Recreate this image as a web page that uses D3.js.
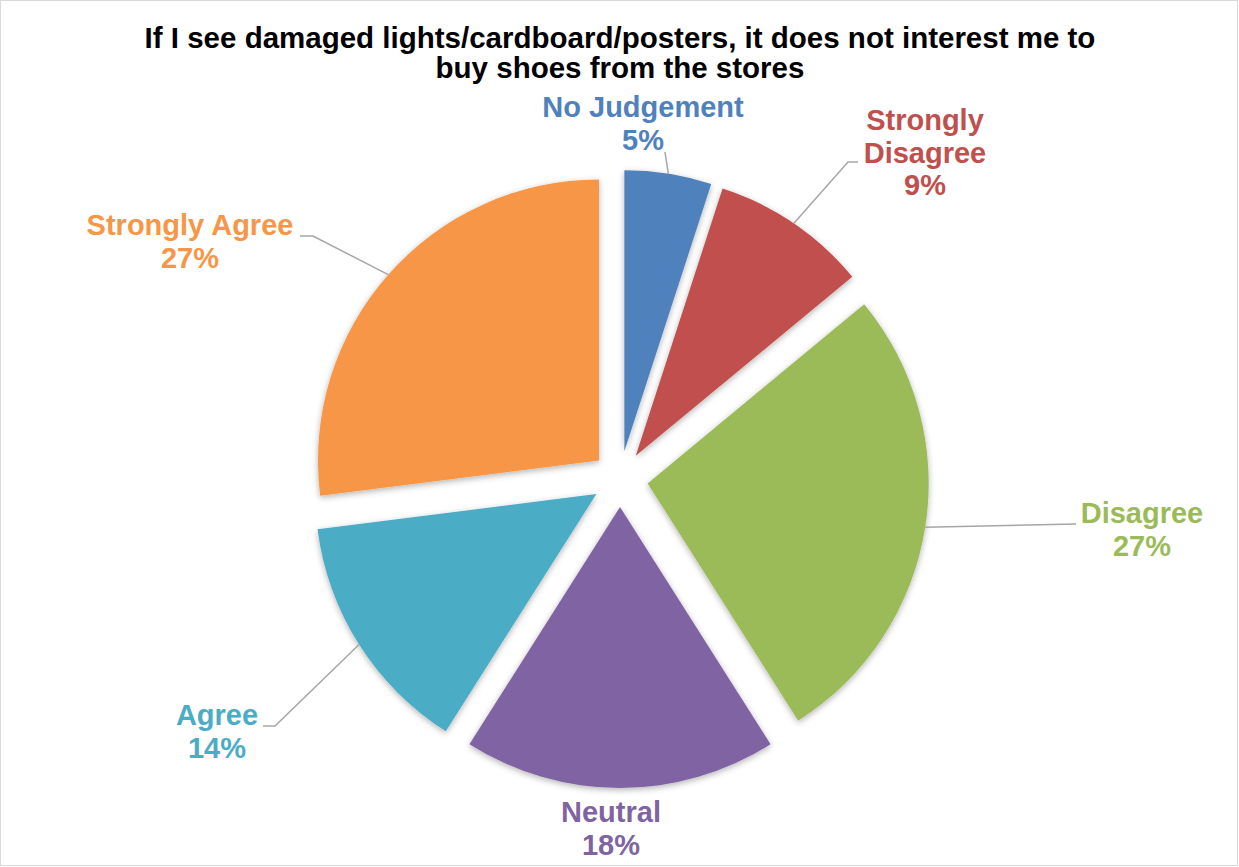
<!DOCTYPE html>
<html>
<head>
<meta charset="utf-8">
<script src="https://cdn.jsdelivr.net/npm/d3@7"></script>
<style>
  html, body { margin: 0; padding: 0; background: #fff; }
  svg { display: block; }
  text { font-family: "Liberation Sans", Arial, sans-serif; font-weight: bold; }
</style>
</head>
<body>
<svg id="chart" width="1239" height="867"></svg>
<script>
// Survey responses (percent of respondents), clockwise from 12 o'clock
const categories = ["No Judgement", "Strongly Disagree", "Disagree", "Neutral", "Agree", "Strongly Agree"];
const values = [5, 9, 27, 18, 14, 27];
const colors = ["#4F81BD", "#C0504D", "#9BBB59", "#8064A2", "#4BACC6", "#F79646"];
const titleLines = [
  "If I see damaged lights/cardboard/posters, it does not interest me to",
  "buy shoes from the stores"
];
// Label text broken into lines (name lines; the percentage is appended)
const labelNameLines = [["No Judgement"], ["Strongly", "Disagree"], ["Disagree"], ["Neutral"], ["Agree"], ["Strongly Agree"]];

// Layout
const W = 1239, H = 867;
const cx = 620, cy = 479, radius = 281, explode = 28;
const labelLineHeight = 32.5;
// label anchor: [centre x, first baseline y]
const labelAnchor = [[643, 117], [925, 130], [1142, 523], [611, 822], [217, 725], [190, 235]];
// leader line: optional elbow then end point near the label
const leaderPts = [
  [[665, 152]],
  [[848, 162], [858, 162]],
  [[1076, 524]],
  null,
  [[275, 726], [263, 726]],
  [[313, 236], [300, 236]]
];

const svg = d3.select("#chart");

const defs = svg.append("defs");
const f = defs.append("filter").attr("id", "sliceShadow")
  .attr("x", "-20%").attr("y", "-20%").attr("width", "140%").attr("height", "140%");
f.append("feDropShadow").attr("dx", 0).attr("dy", 2).attr("stdDeviation", 3)
  .attr("flood-color", "#000").attr("flood-opacity", 0.3);

// outer frame
svg.append("rect").attr("x", 0.5).attr("y", 0.5).attr("width", W - 2).attr("height", H - 2)
  .attr("fill", "#fff").attr("stroke", "#d9d9d9").attr("stroke-width", 1);

// title
svg.append("g").selectAll("text").data(titleLines).join("text")
  .attr("x", 620).attr("y", (d, i) => 48 + i * 30)
  .attr("text-anchor", "middle").attr("font-size", 29.5).attr("fill", "#000")
  .text(d => d);

const data = categories.map((c, i) => ({ name: c, value: values[i], color: colors[i], idx: i }));
const pie = d3.pie().value(d => d.value).sort(null);
const arcs = pie(data);
const arc = d3.arc().innerRadius(0).outerRadius(radius);

const offset = a => {
  const m = (a.startAngle + a.endAngle) / 2;
  return [explode * Math.sin(m), -explode * Math.cos(m)];
};

const g = svg.append("g").attr("transform", `translate(${cx},${cy})`);
g.selectAll("path").data(arcs).join("path")
  .attr("transform", d => `translate(${offset(d)})`)
  .attr("d", arc)
  .attr("fill", d => d.data.color)
  .attr("filter", "url(#sliceShadow)");

// leader lines from slice edge to labels
const line = d3.line();
arcs.forEach((a, i) => {
  const pts = leaderPts[i];
  if (!pts) return;
  const m = (a.startAngle + a.endAngle) / 2;
  const [ox, oy] = offset(a);
  const start = [cx + ox + radius * Math.sin(m), cy + oy - radius * Math.cos(m)];
  svg.append("path")
    .attr("d", line([start, ...pts]))
    .attr("fill", "none").attr("stroke", "#a6a6a6").attr("stroke-width", 1.5);
});

// data labels
arcs.forEach((a, i) => {
  const lines = labelNameLines[i].concat([Math.round(a.data.value) + "%"]);
  const [lx, ly] = labelAnchor[i];
  svg.append("g").selectAll("text").data(lines).join("text")
    .attr("x", lx).attr("y", (d, k) => ly + k * labelLineHeight)
    .attr("text-anchor", "middle").attr("font-size", 29)
    .attr("fill", a.data.color)
    .text(d => d);
});
</script>
</body>
</html>
